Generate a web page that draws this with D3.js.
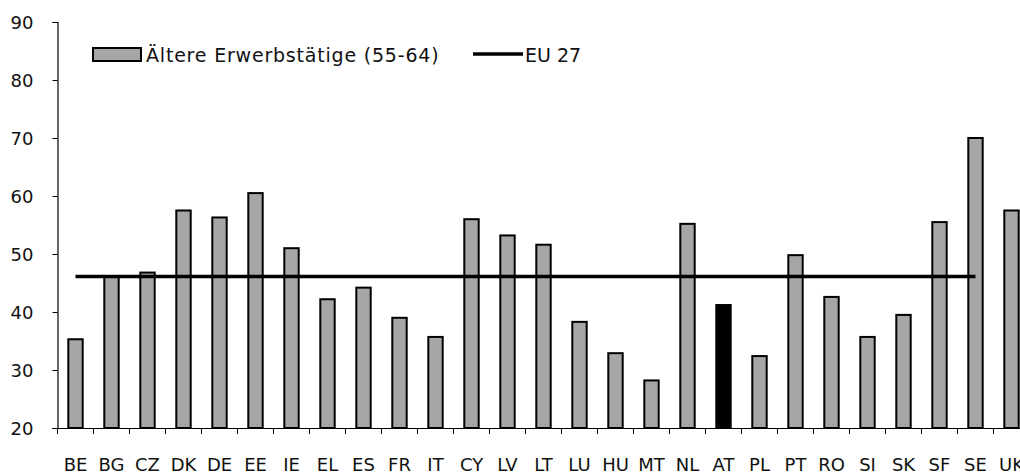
<!DOCTYPE html>
<html>
<head>
<meta charset="utf-8">
<script src="https://cdnjs.cloudflare.com/ajax/libs/d3/7.8.5/d3.min.js"></script>
<style>
  body { margin: 0; background: #fff; }
  svg { display: block; font-family: "DejaVu Sans", sans-serif; }
</style>
</head>
<body>
<div id="content"></div>
<script>
var countries = ["BE","BG","CZ","DK","DE","EE","IE","EL","ES","FR","IT","CY","LV","LT",
                 "LU","HU","MT","NL","AT","PL","PT","RO","SI","SK","SF","SE","UK"];
var values = [35.3, 46.1, 46.8, 57.5, 56.3, 60.5, 51.0, 42.2, 44.2, 39.0, 35.7, 56.0, 53.2, 51.6,
              38.3, 32.9, 28.2, 55.2, 41.2, 32.4, 49.8, 42.6, 35.7, 39.5, 55.5, 70.0, 57.5];
var highlight = ["AT"];
var eu27 = 46.1;
var yTicks = [20, 30, 40, 50, 60, 70, 80, 90];

var w = 1020;
var h = 474;
var mLeft = 57.5;
var band = 36;
var mTop = 22;
var mBottom = 428;

var svg = d3.select("#content")
            .append("svg")
            .attr("width", w)
            .attr("height", h);

// the chart is a bit wider than the window, UK gets cut at the right edge
var x = d3.scaleBand()
          .domain(countries)
          .range([mLeft, mLeft + band * countries.length])
          .paddingInner(0)
          .paddingOuter(0);

var y = d3.scaleLinear()
          .domain([20, 90])
          .range([mBottom, mTop]);

// bars
svg.append("g")
   .selectAll("rect")
   .data(countries)
   .enter()
   .append("rect")
   .attr("x", function(d) { return x(d) + band * 0.30; })
   .attr("width", band * 0.40)
   .attr("y", function(d, i) { return y(values[i]); })
   .attr("height", function(d, i) { return y(20) - y(values[i]); })
   .attr("fill", function(d) { return highlight.indexOf(d) >= 0 ? "#000" : "#a6a6a6"; })
   .attr("stroke", "#000")
   .attr("stroke-width", 2);

// EU 27 line, from BE to SE
svg.append("line")
   .attr("x1", x(countries[0]) + band / 2)
   .attr("x2", x("SE") + band / 2)
   .attr("y1", y(eu27))
   .attr("y2", y(eu27))
   .attr("stroke", "#000")
   .attr("stroke-width", 3.5);

// y axis
var yAxis = svg.append("g")
   .attr("transform", "translate(" + mLeft + ",0)")
   .call(d3.axisLeft(y).tickValues(yTicks).tickSize(5).tickPadding(19));

// x axis
var xAxis = svg.append("g")
   .attr("transform", "translate(0," + mBottom + ")")
   .call(d3.axisBottom(x).tickSize(0).tickPadding(30));

xAxis.selectAll(".tick").append("line")
     .attr("x1", -band / 2).attr("x2", -band / 2)
     .attr("y1", 0).attr("y2", 6)
     .attr("stroke", "#000");

[yAxis, xAxis].forEach(function(a) {
    a.select(".domain").attr("stroke", "#000").attr("stroke-width", 1.2);
    a.selectAll("text")
     .attr("fill", "#111")
     .style("font-size", "18px")
     .style("font-family", "DejaVu Sans, sans-serif");
});
yAxis.selectAll("text").attr("dy", "0.36em");
xAxis.select(".domain").attr("d", "M" + (mLeft - 5) + ",0.5H" + w);

// legend
var legend = svg.append("g");
legend.append("rect")
      .attr("x", 93).attr("y", 48)
      .attr("width", 48).attr("height", 13)
      .attr("fill", "#a6a6a6")
      .attr("stroke", "#000")
      .attr("stroke-width", 2);
legend.append("text")
      .attr("x", 146).attr("y", 62)
      .attr("fill", "#111")
      .style("font-size", "19px")
      .style("letter-spacing", "0.8px")
      .text("Ältere Erwerbstätige (55-64)");
legend.append("line")
      .attr("x1", 473).attr("x2", 523)
      .attr("y1", 54).attr("y2", 54)
      .attr("stroke", "#000")
      .attr("stroke-width", 3.5);
legend.append("text")
      .attr("x", 525).attr("y", 62)
      .attr("fill", "#111")
      .style("font-size", "19px")
      .text("EU 27");
</script>
</body>
</html>
